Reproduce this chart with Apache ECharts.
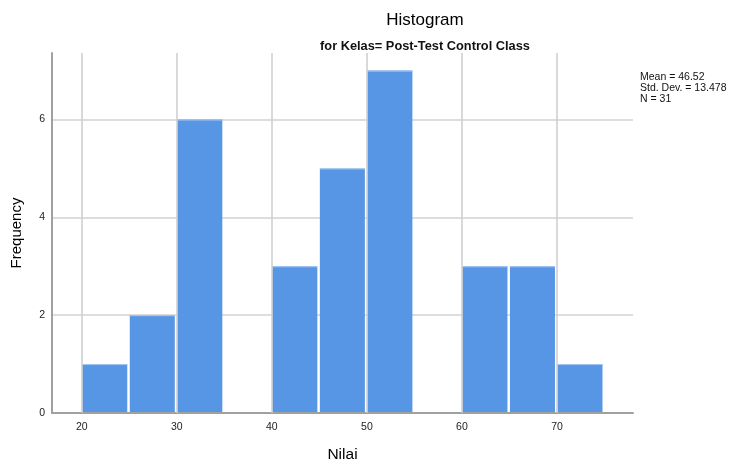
<!DOCTYPE html>
<html>
<head>
<meta charset="utf-8">
<script src="https://cdn.jsdelivr.net/npm/echarts@6/dist/echarts.min.js"></script>
<style>
  html, body { margin: 0; padding: 0; background: #fff; }
  #chart { width: 730px; height: 463px; }
</style>
</head>
<body>
<div id="chart"></div>
<script>
// Histogram of "Nilai" scores, bins of width 5
const binStarts = [20, 25, 30, 35, 40, 45, 50, 55, 60, 65, 70];
const binWidth = 5;
const frequencies = [1, 2, 6, 0, 3, 5, 7, 0, 3, 3, 1];
const xTickValues = [20, 30, 40, 50, 60, 70];
const statLines = ['Mean = 46.52', 'Std. Dev. = 13.478', 'N = 31'];

const FONT = 'Arial, "Liberation Sans", Helvetica, sans-serif';
const chart = echarts.init(document.getElementById('chart'), null, { renderer: 'canvas' });

const binData = binStarts.map((s, i) => [s, s + binWidth, frequencies[i]]);

chart.setOption({
  animation: false,
  backgroundColor: '#ffffff',
  title: [
    {
      text: 'Histogram',
      left: 420, top: 7, textAlign: 'center',
      textStyle: { fontFamily: FONT, fontSize: 17, fontWeight: 'normal', color: '#000' }
    },
    {
      text: 'for Kelas= Post-Test Control Class',
      left: 420, top: 35, textAlign: 'center',
      textStyle: { fontFamily: FONT, fontSize: 12.8, fontWeight: 'bold', color: '#111' }
    }
  ],
  graphic: [
    {
      type: 'text', left: 640, top: 72,
      style: {
        text: statLines.join('\n'),
        font: '10.5px ' + FONT, lineHeight: 11, fill: '#111'
      }
    }
  ],
  grid: { left: 52, right: 97, top: 53, bottom: 50, containLabel: false, outerBoundsMode: 'none' },
  xAxis: {
    type: 'value',
    min: 16.87, max: 78,
    name: 'Nilai', nameLocation: 'middle', nameGap: 34,
    nameTextStyle: { fontFamily: FONT, fontSize: 15.5, color: '#000' },
    axisLine: { show: true, lineStyle: { color: '#a0a0a0', width: 2 } },
    axisTick: { show: false, customValues: xTickValues },
    axisLabel: { customValues: xTickValues, fontFamily: FONT, fontSize: 10.5, color: '#222', margin: 9 },
    splitLine: { show: false }
  },
  yAxis: {
    type: 'value',
    min: 0, max: 7.36, interval: 2,
    name: 'Frequency', nameLocation: 'middle', nameGap: 28,
    nameTextStyle: { fontFamily: FONT, fontSize: 15, color: '#000' },
    axisLine: { show: true, lineStyle: { color: '#a0a0a0', width: 2 } },
    axisTick: { show: false },
    axisLabel: { fontFamily: FONT, fontSize: 10.5, color: '#222', margin: 7, showMaxLabel: false },
    splitLine: { show: true, showMaxLine: false, lineStyle: { color: '#d2d2d2', width: 1.5 } }
  },
  series: [
    {
      // vertical grid lines at the labelled x values
      type: 'line', data: [], silent: true,
      markLine: {
        symbol: 'none', silent: true, label: { show: false },
        lineStyle: { color: '#cdcdcd', width: 1.5, type: 'solid' },
        data: xTickValues.map(v => ({ xAxis: v }))
      },
      z: 1
    },
    {
      type: 'custom',
      data: binData,
      encode: { x: [0, 1], y: 2 },
      z: 3,
      renderItem: function (params, api) {
        const h = api.value(2);
        if (!h) return null;
        const p0 = api.coord([api.value(0), 0]);
        const p1 = api.coord([api.value(1), h]);
        const x = p0[0] + 0.5;
        const w = p1[0] - p0[0] - 2.5;
        const y = p1[1];
        const hh = p0[1] - p1[1] - 1;
        return {
          type: 'group',
          children: [
            { type: 'rect', shape: { x: x, y: y, width: w, height: hh },
              style: { fill: '#5796e4' } },
            { type: 'line', shape: { x1: x, y1: y + 0.5, x2: x + w, y2: y + 0.5 },
              style: { stroke: '#a9c8f1', lineWidth: 1 } }
          ]
        };
      }
    }
  ]
});
</script>
</body>
</html>
